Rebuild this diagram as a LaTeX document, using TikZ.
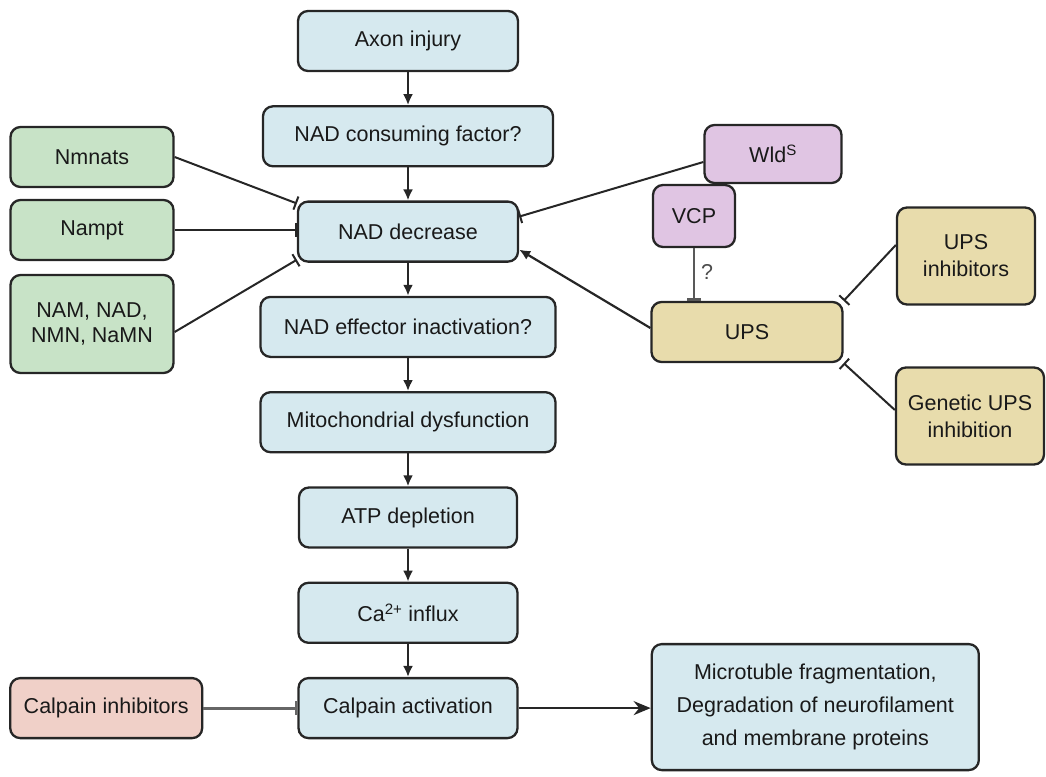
\documentclass[tikz,border=0pt]{standalone}
\usepackage{fontspec}
\setmainfont{Liberation Sans}
\usetikzlibrary{positioning,arrows.meta}

\definecolor{stepblue}{HTML}{D6E9EF}
\definecolor{nadgreen}{HTML}{C8E3C7}
\definecolor{wldpurple}{HTML}{E0C5E3}
\definecolor{upstan}{HTML}{E8DCAC}
\definecolor{calppink}{HTML}{F0D0C8}
\definecolor{edge}{HTML}{262626}

\begin{document}
\begin{tikzpicture}[
  x=1pt, y=1pt,
  font=\fontsize{21.5}{27}\selectfont,
  text=black!90,
  node distance=33pt,
  box/.style={draw=edge, rounded corners=10pt, align=center,
              line width=2.3pt, inner sep=4pt, minimum height=60pt},
  mainbox/.style={box, fill=stepblue},
  protbox/.style={box, fill=nadgreen, minimum width=163pt},
  wldbox/.style ={box, fill=wldpurple},
  upsbox/.style ={box, fill=upstan},
  calpbox/.style={box, fill=calppink},
  flow/.style ={-{Latex[length=11pt,width=10pt]}, line width=2.2pt, draw=edge},
  inhib/.style={-{Bar[width=14pt,line width=2pt]}, line width=2pt, draw=edge},
]
\useasboundingbox (0,0) rectangle (1046,-776);

% main cascade
\node[mainbox, minimum width=220pt] (axon) at (408,-41) {Axon injury};
\node[mainbox, minimum width=290pt, below=of axon] (ncf) {NAD consuming factor?};
\node[mainbox, minimum width=220pt, below=of ncf]  (nadd) {NAD decrease};
\node[mainbox, minimum width=295pt, below=of nadd] (eff) {NAD effector inactivation?};
\node[mainbox, minimum width=295pt, below=of eff]  (mito) {Mitochondrial dysfunction};
\node[mainbox, minimum width=218pt, below=of mito] (atp) {ATP depletion};
\node[mainbox, minimum width=219pt, below=of atp]  (ca) {Ca\textsuperscript{2+} influx};
\node[mainbox, minimum width=219pt, below=of ca]   (calp) {Calpain activation};

\node[calpbox, minimum width=192pt, left=94pt of calp] (calpinh) {Calpain inhibitors};
\node[mainbox, minimum width=327pt, minimum height=126pt, right=132pt of calp,
      yshift=1pt, font=\fontsize{21.5}{33}\selectfont]
  (micro) {Microtuble fragmentation,\\Degradation of neurofilament\\and membrane proteins};

% NAD synthesis side
\node[protbox] (nmnats) at (92,-157) {Nmnats};
\node[protbox] (nampt)  at (92,-230) {Nampt};
\node[protbox, minimum height=98pt, font=\fontsize{21.5}{25}\selectfont]
  (nam) at (92,-324) {NAM, NAD,\\NMN, NaMN};

% Wld^S / UPS side
\node[wldbox, minimum width=137pt, minimum height=58pt] (wlds) at (773,-154) {Wld\textsuperscript{S}};
\node[wldbox, minimum width=82pt, minimum height=62pt]  (vcp)  at (694,-216) {VCP};
\node[upsbox, minimum width=191pt] (ups) at (747,-332) {UPS};
\node[upsbox, minimum width=138pt, minimum height=97pt] (upsinh) at (966,-256) {UPS\\inhibitors};
\node[upsbox, minimum width=148pt, minimum height=97pt] (genups) at (970,-416) {Genetic UPS\\inhibition};

% cascade arrows
\draw[flow] (axon) -- (ncf);
\draw[flow] (ncf)  -- (nadd);
\draw[flow] (nadd) -- (eff);
\draw[flow] (eff)  -- (mito);
\draw[flow] (mito) -- (atp);
\draw[flow] (atp)  -- (ca);
\draw[flow] (ca)   -- (calp);
\draw[-{Stealth[length=17pt,width=14pt]}, line width=2.2pt, draw=edge]
  (calp) -- (calp -| micro.west);

% inhibition of NAD decrease
\draw[inhib] (nmnats.east) -- ([yshift=-3pt]nadd.north west);
\draw[inhib] (nampt.east) -- (nampt.east -| nadd.west);
\draw[inhib] ([yshift=-8pt]nam.east) -- ([yshift=3pt]nadd.south west);
\draw[inhib] ([yshift=-8pt]wlds.west) -- ([yshift=15pt]nadd.east);
\draw[flow]  ([yshift=4pt]ups.west) -- ([yshift=-18pt]nadd.east);

% UPS regulation
\draw[-{Bar[width=14pt,line width=2.5pt]}, line width=1.4pt, draw=black!65]
  (vcp.south) -- (vcp.south |- ups.north)
  node[pos=0.45, right=3pt, text=black!70] (vcpq) {?};
\draw[inhib] ([yshift=11pt]upsinh.west) -- (ups.north east);
\draw[inhib] ([yshift=6pt]genups.west) -- (ups.south east);

\draw[-{Bar[width=14pt,line width=2.5pt]}, line width=3.2pt, draw=black!60]
  (calpinh) -- (calp);

\end{tikzpicture}
\end{document}
